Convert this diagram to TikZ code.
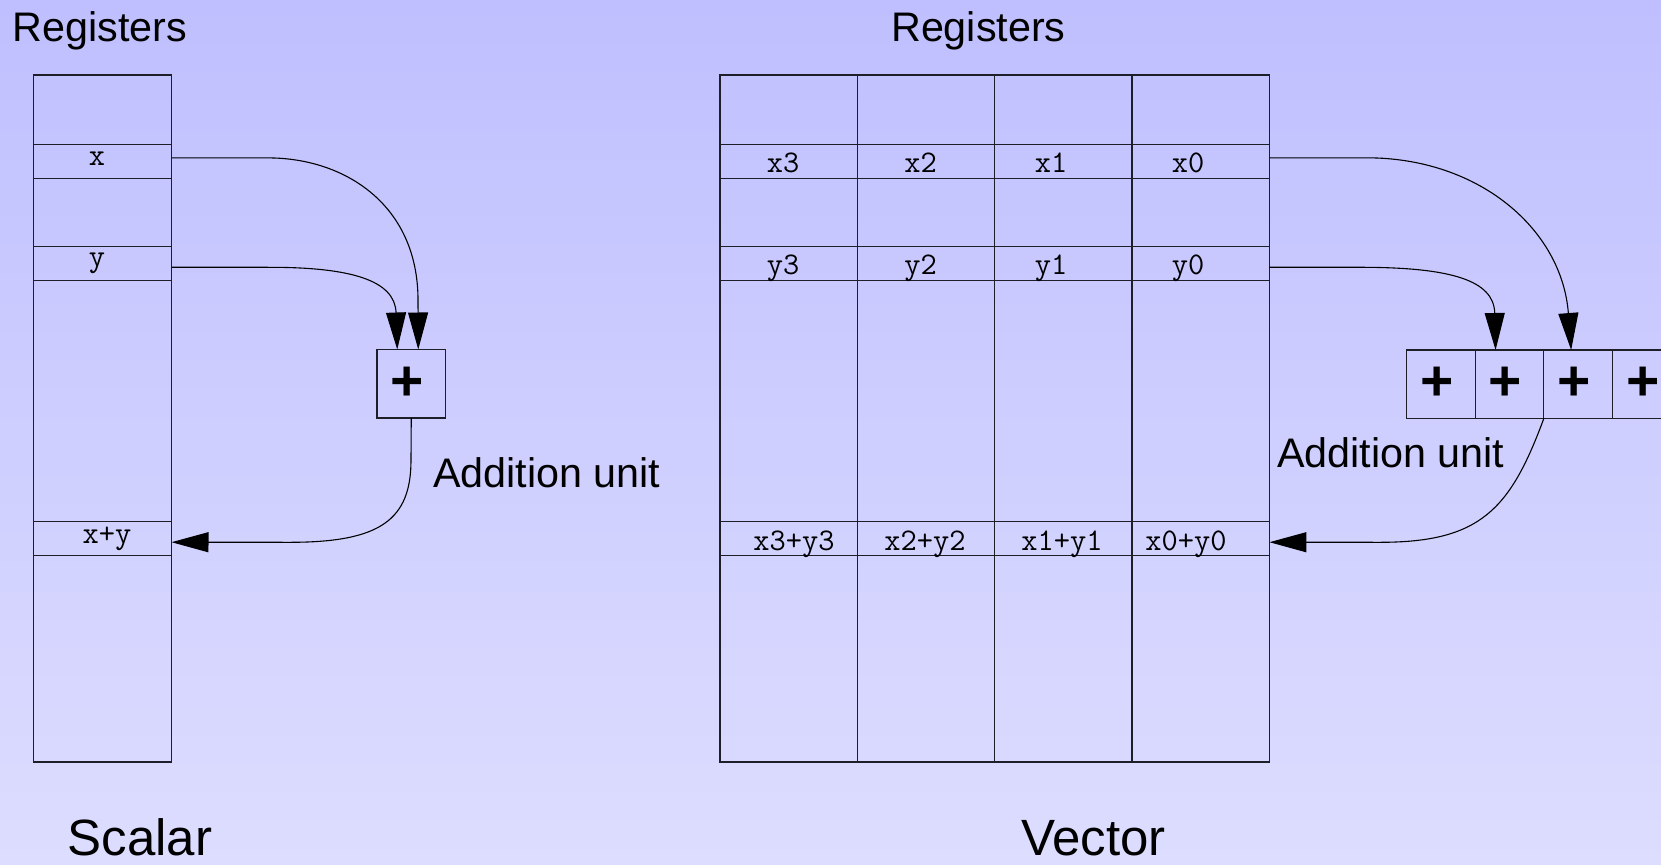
\documentclass[tikz,border=0pt]{standalone}
\usepackage{fontspec}
\setmainfont{Liberation Sans}
\usetikzlibrary{arrows.meta}
\definecolor{bgtop}{RGB}{191,191,255}
\definecolor{bgbottom}{RGB}{221,221,255}
\definecolor{inkline}{RGB}{30,30,40}
\begin{document}
\begin{tikzpicture}[x=1pt,y=-1pt,
  regline/.style={draw=inkline, line width=1.1pt},
  cell/.style={draw=inkline, line width=1.1pt, rectangle, inner sep=0pt, outer sep=0pt,
    anchor=north west, minimum height=34pt},
  scell/.style={cell, minimum width=138pt},
  vcell/.style={cell, minimum width=137.4pt},
  reglabel/.style={font=\ttfamily\fontsize{31.5}{33}\selectfont, anchor=base, inner sep=0pt},
  regtitle/.style={font=\fontsize{41.3}{48}\selectfont, anchor=base west, inner sep=0pt},
  bigcaption/.style={font=\fontsize{51}{60}\selectfont, anchor=base west, inner sep=0pt},
  adder/.style={draw=inkline, line width=1.1pt, rectangle, minimum width=68.5pt,
    minimum height=68.5pt, inner sep=0pt, outer sep=0pt, anchor=north west},
  plussign/.style={font=\bfseries\fontsize{57}{57}\selectfont, inner sep=0pt, xshift=-4pt},
  flow/.style={draw=black, line width=1.1pt, -{Triangle[length=37pt,width=20pt]}}
]
\useasboundingbox (0,0) rectangle (1661,864);
\clip (0,0) rectangle (1661,864);
\fill[top color=bgtop, bottom color=bgbottom] (0,0) rectangle (1661,864);

% ---------------- scalar side ----------------
\node[regtitle] (stitle) at (12.5,42) {Registers};
\draw[regline] (33.5,75) rectangle (171.5,762);
\node[scell] (sx)  at (33.5,144.3) {};
\node[scell] (sy)  at (33.5,246.7) {};
\node[scell] (sxy) at (33.5,521.7) {};
\node[reglabel] (sxl)  at (97,165.5)  {x};
\node[reglabel] (syl)  at (97,266.8)  {y};
\node[reglabel] (sxyl) at (107,543.3) {x+y};

\node[adder] (sadd) at (377,349.5) {};
\node[plussign] (splus) at (sadd.center) {+};
\node[regtitle] (saddl) at (433,487) {Addition unit};

\draw[flow] ([yshift=3.4pt]sx.east) -- (268,157.9)
  .. controls (345,157.9) and (418,205) .. (418,300) -- ([xshift=7pt]sadd.north);
\draw[flow] ([yshift=-3.5pt]sy.east) -- (270,267.3)
  .. controls (350,267.3) and (395,280) .. ([xshift=-14pt]sadd.north);
\draw[flow] (sadd.south) -- (411,460)
  .. controls (411,520) and (380,542.3) .. (290,542.3) -- ([yshift=-3.5pt]sxy.east);

\node[bigcaption] (scap) at (67.5,855.5) {Scalar};

% ---------------- vector side ----------------
\node[regtitle] (vtitle) at (891,42) {Registers};
\draw[regline] (720,75) rectangle (1269.5,762);
\foreach \cx in {857.4,994.6,1132} \draw[regline] (\cx,75) -- (\cx,762);
\foreach \cx/\i in {720/3,857.4/2,994.6/1,1132/0} {
  \node[vcell] (vx\i)  at (\cx,144.3) {};
  \node[vcell] (vy\i)  at (\cx,246.7) {};
  \node[vcell] (vs\i)  at (\cx,521.7) {};
}
\foreach \lx/\i in {783/3,920.6/2,1051/1,1188/0} {
  \node[reglabel] (vxl\i) at (\lx,172.3) {x\i};
  \node[reglabel] (vyl\i) at (\lx,274)   {y\i};
}
\foreach \lx/\i in {794/3,925/2,1062/1,1186/0}
  \node[reglabel] (vsl\i) at (\lx,550) {x\i+y\i};

\foreach \ax/\i in {1406.7/1,1475.3/2,1543.9/3,1612.4/4} {
  \node[adder] (va\i) at (\ax,350) {};
  \node[plussign] (vplus\i) at (va\i.center) {+};
}
\node[regtitle] (vaddl) at (1277,467) {Addition unit};

\draw[flow] ([yshift=3.5pt]vx0.east) -- (1367,157.8)
  .. controls (1480,158) and (1562,230) .. ([xshift=-7pt]va3.north);
\draw[flow] ([yshift=-3.5pt]vy0.east) -- (1367,267.3)
  .. controls (1450,268) and (1494,280) .. ([xshift=-14pt]va2.north);
\draw[flow] (va2.south east)
  .. controls (1510,510) and (1480,542.3) .. (1380,542.3) -- ([yshift=-3.5pt]vs0.east);

\node[bigcaption] (vcap) at (1021,855.5) {Vector};
\end{tikzpicture}
\end{document}
